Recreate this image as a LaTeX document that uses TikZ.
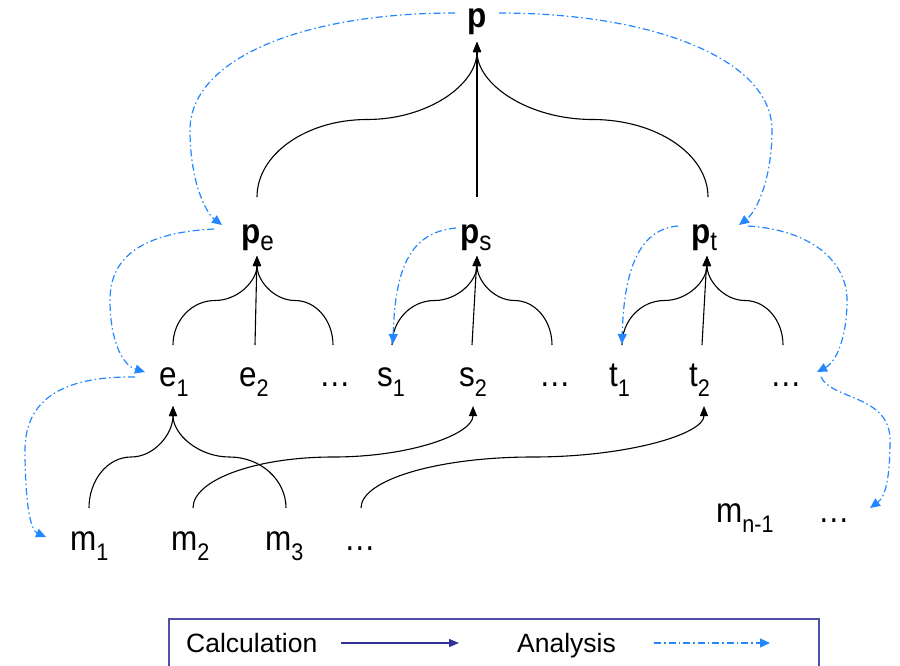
\documentclass[tikz,border=0pt]{standalone}
\usepackage{fontspec}
\setmainfont{Liberation Sans}
\newfontfamily\rowf[FakeStretch=0.9]{Liberation Sans}
\usetikzlibrary{arrows.meta,calc}
\definecolor{anblue}{RGB}{35,135,255}
\definecolor{calcblue}{RGB}{50,50,150}
\definecolor{legframe}{RGB}{80,80,170}
\newcommand\rowtext{\rowf\fontsize{35}{40}\selectfont}
\newcommand\lowsub[1]{\raisebox{-10pt}{\rowf\mdseries\fontsize{24}{28}\selectfont #1}}
\newcommand\topsub[1]{\raisebox{-7pt}{\rowf\mdseries\fontsize{27}{30}\selectfont #1}}
\newcommand\fanline[2]{%
  \draw[calcline] let \p1=(#1), \p2=(#2),
    \n1={0.552*(\x2-\x1)/2}, \n2={0.552*(\y2-\y1)/2},
    \n3={-0.552*(\x2-\x1)/2}, \n4={-0.552*(\y2-\y1)/2} in
    (#1) .. controls +(0pt,\n2) and +(\n3,0pt) .. ($(\p1)!.5!(\p2)$)
         .. controls +(\n1,0pt) and +(0pt,\n4) .. (#2);}
\begin{document}
\begin{tikzpicture}[x=1pt,y=-1pt,
  lab/.style={inner sep=0pt, anchor=base west, font=\rowtext},
  plab/.style={inner sep=0pt, anchor=base west, font=\rowtext\bfseries},
  calcline/.style={line width=1.1pt, -{Triangle[length=10pt,width=8pt]}},
  anal/.style={anblue, line width=1.2pt, dash pattern=on 7pt off 3pt on 1.5pt off 3pt,
    -{Triangle[length=10pt,width=9pt]}},
  legtext/.style={inner sep=0pt, anchor=base west, font=\fontsize{26.5}{30}\selectfont},
]
\useasboundingbox (0,0) rectangle (900,665);

% ---------- nodes ----------
\node[plab] (p)  at (467,27)  {p};
\node[plab] (pe) at (241,243) {p\topsub{e}};
\node[plab] (ps) at (460,243) {p\topsub{s}};
\node[plab] (pt) at (691,243) {p\topsub{t}};

\node[lab] (e1) at (159,386) {e\lowsub{1}};
\node[lab] (e2) at (239,386) {e\lowsub{2}};
\node[lab] (ed) at (319,386) {…};
\node[lab] (s1) at (377,386) {s\lowsub{1}};
\node[lab] (s2) at (459,386) {s\lowsub{2}};
\node[lab] (sd) at (539,386) {…};
\node[lab] (t1) at (609,386) {t\lowsub{1}};
\node[lab] (t2) at (689,386) {t\lowsub{2}};
\node[lab] (td) at (770,386) {…};

\node[lab] (m1)  at (70,550)  {m\lowsub{1}};
\node[lab] (m2)  at (171,550) {m\lowsub{2}};
\node[lab] (m3)  at (265,550) {m\lowsub{3}};
\node[lab] (md)  at (344,550) {…};
\node[lab] (mn)  at (716,522) {m\lowsub{n-1}};
\node[lab] (mnd) at (818,522) {…};

% ---------- ports ----------
\coordinate (p-in)  at (477,42);
\coordinate (pe-up) at (257,197);
\coordinate (ps-up) at (477,197);
\coordinate (pt-up) at (708,197);
\coordinate (pe-in) at (257,256);
\coordinate (ps-in) at (477,256);
\coordinate (pt-in) at (707,256);
\coordinate (e1-up) at (173,345);
\coordinate (e2-up) at (255,345);
\coordinate (ed-up) at (333,345);
\coordinate (s1-up) at (392,345);
\coordinate (s2-up) at (472,345);
\coordinate (sd-up) at (552,345);
\coordinate (t1-up) at (622,345);
\coordinate (t2-up) at (702,345);
\coordinate (td-up) at (783,345);
\coordinate (e1-in) at (173,406);
\coordinate (s2-in) at (473,406);
\coordinate (t2-in) at (704,406);
\coordinate (m1-up) at (89,508);
\coordinate (m2-up) at (193,508);
\coordinate (m3-up) at (286,508);
\coordinate (md-up) at (361,508);

% ---------- calculation connectors ----------
\fanline{pe-up}{p-in}
\draw[calcline] (ps-up) -- (p-in);
\fanline{pt-up}{p-in}

\fanline{e1-up}{pe-in}
\draw[calcline] (e2-up) -- (pe-in);
\fanline{ed-up}{pe-in}

\fanline{s1-up}{ps-in}
\draw[calcline] (s2-up) -- (ps-in);
\fanline{sd-up}{ps-in}

\fanline{t1-up}{pt-in}
\draw[calcline] (t2-up) -- (pt-in);
\fanline{td-up}{pt-in}

\fanline{m1-up}{e1-in}
\fanline{m3-up}{e1-in}
\fanline{m2-up}{s2-in}
\fanline{md-up}{t2-in}

% ---------- analysis connectors ----------
\coordinate (p-l)     at (455,13);
\coordinate (p-r)     at (499,13);
\coordinate (pe-lin)  at (222,225);
\coordinate (pt-rin)  at (739,225);
\coordinate (pe-lout) at (214,229);
\coordinate (e1-lin)  at (145,372);
\coordinate (e1-lout) at (135,377);
\coordinate (m1-lin)  at (46,537);
\coordinate (ps-lout) at (456,228);
\coordinate (s1-tin)  at (393,344);
\coordinate (pt-lout) at (678,226);
\coordinate (t1-tin)  at (622,344);
\coordinate (pt-rout) at (748,226);
\coordinate (td-rin)  at (817,372);
\coordinate (td-rout) at (821,377);
\coordinate (mnd-in)  at (870,508);

\draw[anal] (p-l) .. controls (300,13) and (190,60) .. (190,130)
            .. controls (190,180) and (205,212) .. (pe-lin);
\draw[anal] (p-r) .. controls (655,13) and (772,60) .. (772,130)
            .. controls (772,180) and (756,212) .. (pt-rin);
\draw[anal] (pe-lout) .. controls (135,233) and (110,262) .. (110,300)
            .. controls (110,340) and (122,365) .. (e1-lin);
\draw[anal] (e1-lout) .. controls (70,376) and (25,395) .. (25,450)
            .. controls (25,500) and (30,530) .. (m1-lin);
\draw[anal] (ps-lout) .. controls (412,232) and (395,265) .. (s1-tin);
\draw[anal] (pt-lout) .. controls (643,229) and (624,262) .. (t1-tin);
\draw[anal] (pt-rout) .. controls (812,230) and (847,262) .. (847,300)
            .. controls (847,338) and (836,362) .. (td-rin);
\draw[anal] (td-rout) .. controls (832,400) and (890,395) .. (890,440)
            .. controls (890,480) and (885,497) .. (mnd-in);

% ---------- legend ----------
\node[draw=legframe, line width=1.5pt, anchor=north west, inner sep=0pt,
      minimum width=650pt, minimum height=70pt] (legend) at (168,618) {};
\node[legtext] (lcalc) at (186,652) {Calculation};
\node[legtext] (lanal) at (517,652) {Analysis};
\coordinate (lc-a) at (341,643);
\coordinate (lc-b) at (459,643);
\coordinate (la-a) at (654,643);
\coordinate (la-b) at (770,643);
\draw[calcblue, line width=1.3pt, -{Triangle[length=10pt,width=8pt]}] (lc-a) -- (lc-b);
\draw[anal] (la-a) -- (la-b);
\end{tikzpicture}
\end{document}
